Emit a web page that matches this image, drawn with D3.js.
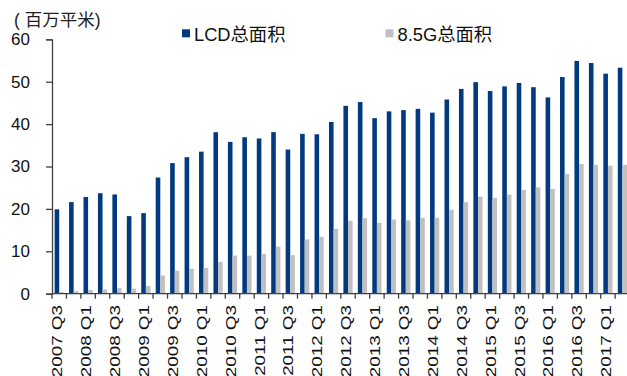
<!DOCTYPE html>
<html>
<head>
<meta charset="utf-8">
<script src="https://cdn.jsdelivr.net/npm/d3@7/dist/d3.min.js"></script>
<style>
  html, body { margin: 0; padding: 0; background: #fff; }
  svg { display: block; font-family: "Liberation Sans", Arial, "Noto Sans CJK SC", sans-serif; }
</style>
</head>
<body>
<svg id="chart" width="627" height="376"></svg>
<script>
// Quarterly panel area shipments, million square metres
const quarters = [
  "2007 Q3","2007 Q4","2008 Q1","2008 Q2","2008 Q3","2008 Q4","2009 Q1","2009 Q2",
  "2009 Q3","2009 Q4","2010 Q1","2010 Q2","2010 Q3","2010 Q4","2011 Q1","2011 Q2",
  "2011 Q3","2011 Q4","2012 Q1","2012 Q2","2012 Q3","2012 Q4","2013 Q1","2013 Q2",
  "2013 Q3","2013 Q4","2014 Q1","2014 Q2","2014 Q3","2014 Q4","2015 Q1","2015 Q2",
  "2015 Q3","2015 Q4","2016 Q1","2016 Q2","2016 Q3","2016 Q4","2017 Q1","2017 Q2"
];
const lcdTotal = [
  19.9, 21.6, 22.8, 23.7, 23.4, 18.3, 19.0, 27.4,
  30.8, 32.2, 33.5, 38.1, 35.8, 36.9, 36.6, 38.1,
  34.0, 37.7, 37.6, 40.5, 44.3, 45.2, 41.4, 43.0,
  43.3, 43.6, 42.7, 45.8, 48.3, 49.9, 47.8, 48.9,
  49.7, 48.7, 46.3, 51.1, 54.9, 54.4, 51.9, 53.3
];
const gen85Total = [
  0.4, 0.6, 0.9, 1.0, 1.3, 1.2, 1.8, 4.3,
  5.4, 5.9, 6.1, 7.5, 9.0, 9.0, 9.4, 11.1,
  9.1, 12.8, 13.4, 15.3, 17.2, 17.8, 16.7, 17.5,
  17.3, 17.9, 17.9, 19.8, 21.6, 22.9, 22.6, 23.4,
  24.5, 25.1, 24.7, 28.2, 30.6, 30.4, 30.2, 30.4
];
const yTicks = [0, 10, 20, 30, 40, 50, 60];
const seriesNames = ["LCD总面积", "8.5G总面积"];
const seriesColors = ["#023a80", "#c0c0c0"];
const unitLabel = "( 百万平米)";

const svg = d3.select("#chart");
const left = 52, zeroY = 293.7, topY = 39.3, step = 14.44;

const x = d3.scaleBand().domain(quarters).range([left, left + step * quarters.length]).padding(0);
const y = d3.scaleLinear().domain([0, 60]).range([zeroY, topY]);
const half = 4.6;

// bars
const g = svg.append("g");
g.selectAll("rect.lcd").data(lcdTotal).join("rect")
  .attr("class", "lcd")
  .attr("x", (d, i) => x(quarters[i]) + x.bandwidth() / 2 - half)
  .attr("width", half)
  .attr("y", d => y(d))
  .attr("height", d => y(0) - y(d))
  .attr("fill", seriesColors[0]);
g.selectAll("rect.g85").data(gen85Total).join("rect")
  .attr("class", "g85")
  .attr("x", (d, i) => x(quarters[i]) + x.bandwidth() / 2)
  .attr("width", half)
  .attr("y", d => y(d))
  .attr("height", d => y(0) - y(d))
  .attr("fill", seriesColors[1]);

// y axis
const yAxis = svg.append("g")
  .attr("transform", `translate(${left},0)`)
  .call(d3.axisLeft(y).tickValues(yTicks).tickSize(6).tickPadding(16));
yAxis.select(".domain").attr("stroke", "#404040").attr("stroke-width", 1.3);
yAxis.selectAll(".tick line").attr("stroke", "#404040").attr("stroke-width", 1.3);
yAxis.selectAll(".tick text").attr("font-size", 17).attr("fill", "#111")
  .attr("font-family", "'Liberation Sans', Arial, sans-serif");

// x axis: baseline, ticks at band edges, labels every second quarter
const xAxisG = svg.append("g");
xAxisG.append("line")
  .attr("x1", left).attr("x2", 627).attr("y1", zeroY).attr("y2", zeroY)
  .attr("stroke", "#404040").attr("stroke-width", 1.3);
xAxisG.selectAll("line.tk").data(quarters).join("line")
  .attr("class", "tk")
  .attr("x1", d => x(d)).attr("x2", d => x(d))
  .attr("y1", zeroY).attr("y2", zeroY + 5)
  .attr("stroke", "#404040").attr("stroke-width", 1.3);
xAxisG.selectAll("text").data(quarters.filter((d, i) => i % 2 === 0)).join("text")
  .attr("transform", d => `translate(${x(d) + x.bandwidth() / 2 + 3.2},${305}) rotate(-90) scale(1.3,1)`)
  .attr("text-anchor", "end")
  .attr("font-size", 14.5)
  .attr("fill", "#111")
  .text(d => d);

// unit label
svg.append("text").attr("x", 14).attr("y", 26).attr("font-size", 17.5).attr("fill", "#222")
  .text(unitLabel);

// legend
const legendX = [182, 385.5];
const leg = svg.append("g");
seriesNames.forEach((name, i) => {
  leg.append("rect").attr("x", legendX[i]).attr("y", 29.3).attr("width", 8).attr("height", 8)
    .attr("fill", seriesColors[i]);
  leg.append("text").attr("x", legendX[i] + 12).attr("y", 41)
    .attr("font-size", 18.3).attr("fill", "#111").text(name);
});
</script>
</body>
</html>
